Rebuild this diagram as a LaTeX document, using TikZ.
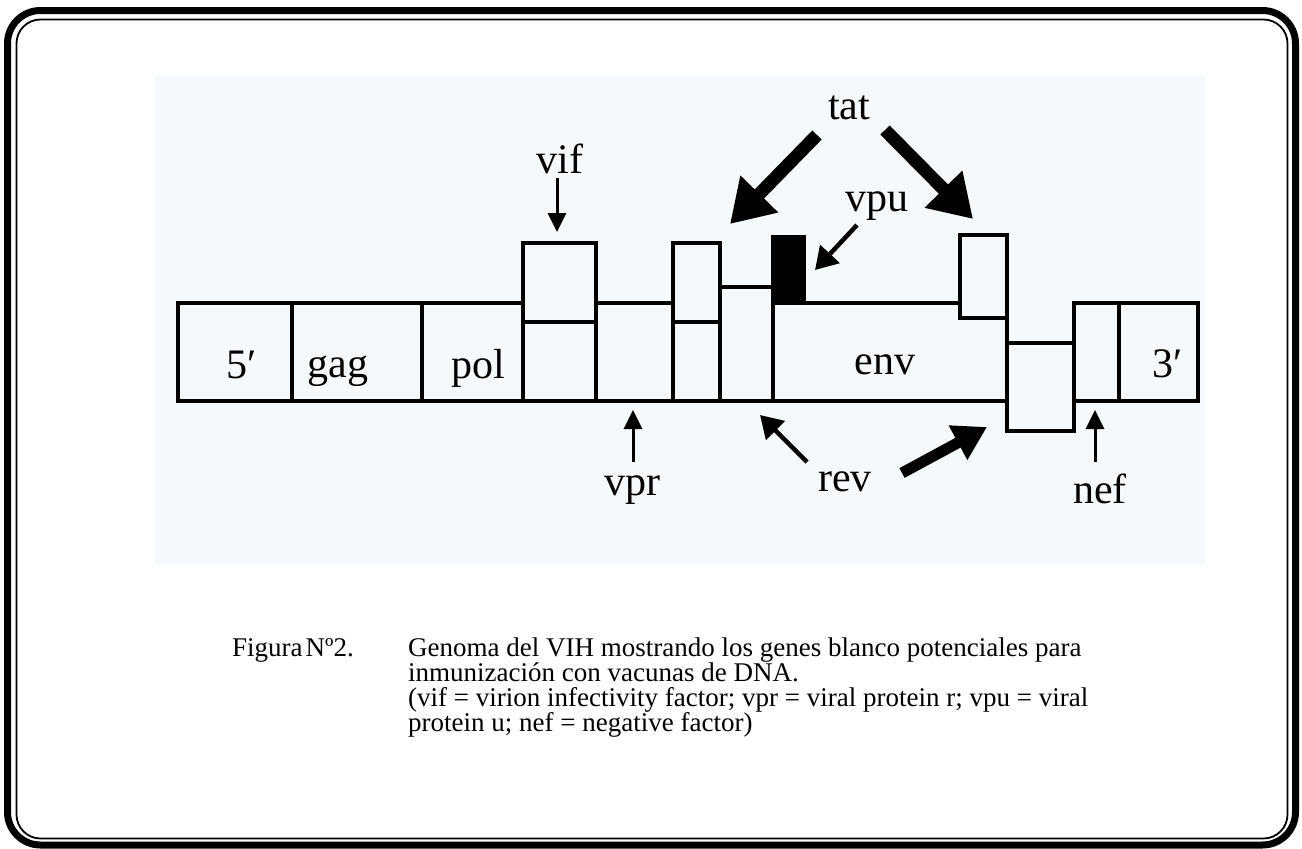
\documentclass[tikz,border=0pt]{standalone}
\usepackage{fontspec}
\setmainfont{Liberation Serif}
\usetikzlibrary{arrows.meta}
\definecolor{scanbg}{RGB}{246,249,251}
\begin{document}
\begin{tikzpicture}[x=1pt,y=-1pt,
  gline/.style={line width=3.6pt, line join=miter, line cap=rect},
  lab/.style={font=\fontsize{42}{42}\selectfont, inner sep=0pt, anchor=base},
  capt/.style={font=\fontsize{27}{27}\selectfont, inner sep=0pt, anchor=base west},
  thinarr/.style={line width=3pt, -{Triangle[width=18pt,length=19pt]}},
  medarr/.style={line width=4.5pt, -{Triangle[width=26pt,length=22pt]}},
  bigarr/.style={line width=13pt, -{Triangle[width=50pt,length=42pt]}},
  revarr/.style={line width=11pt, -{Triangle[width=37pt,length=33pt]}}
]
\useasboundingbox (0,0) rectangle (1302,849);
\fill[white] (0,0) rectangle (1302,849);
\fill[scanbg] (155,75) rectangle (1205,565);
% frame
\draw[line width=7pt, rounded corners=33pt] (7.5,10.5) rectangle (1295.5,845);
\draw[line width=1.8pt, rounded corners=24pt] (16.5,19.5) rectangle (1287.5,838.5);
% genome
\draw[gline] (178,303) rectangle (523,401);
\draw[gline] (292,303) -- (292,401) (422,303) -- (422,401);
\draw[gline] (523,243) rectangle (596,401) (523,322) -- (596,322);
\draw[gline] (596,303) -- (673,303) (596,401) -- (673,401);
\draw[gline] (673,243) rectangle (720,401) (673,322) -- (720,322);
\draw[gline] (720,287) rectangle (773,401);
\filldraw[gline] (773,237) rectangle (804,303);
\draw[gline] (804,303) -- (960,303);
\draw[gline] (773,303) -- (773,401) -- (1007,401) -- (1007,318);
\draw[gline] (960,235) rectangle (1007,318);
\draw[gline] (1007,343) rectangle (1074,431);
\draw[gline] (1074,303) rectangle (1198,401) (1119,303) -- (1119,401);
% labels
\node[lab] (t5) at (242,378) {5′};
\node[lab] (tgag) at (338,377) {gag};
\node[lab] (tpol) at (478,378) {pol};
\node[lab] (tenv) at (885,374) {env};
\node[lab] (t3) at (1168,377) {3′};
\node[lab] (tvif) at (560,173) {vif};
\node[lab] (ttat) at (849,119) {tat};
\node[lab] (tvpu) at (877,211) {vpu};
\node[lab] (tvpr) at (632,495) {vpr};
\node[lab] (trev) at (845,491) {rev};
\node[lab] (tnef) at (1100,503) {nef};
% arrow ends
\coordinate (vifS) at (557,178); \coordinate (vifE) at (557,232);
\coordinate (vprS) at (633,462); \coordinate (vprE) at (633,410);
\coordinate (nefS) at (1095,462); \coordinate (nefE) at (1095,410);
\coordinate (vpuS) at (857,225); \coordinate (vpuE) at (815,270);
\coordinate (revAS) at (807,462); \coordinate (revAE) at (760,415);
\coordinate (revBS) at (902,473); \coordinate (revBE) at (987,427);
\coordinate (tatAS) at (817,135); \coordinate (tatAE) at (730,224);
\coordinate (tatBS) at (885,130); \coordinate (tatBE) at (973,219);
\draw[thinarr] (vifS) -- (vifE);
\draw[thinarr] (vprS) -- (vprE);
\draw[thinarr] (nefS) -- (nefE);
\draw[medarr] (vpuS) -- (vpuE);
\draw[medarr] (revAS) -- (revAE);
\draw[revarr] (revBS) -- (revBE);
\draw[bigarr] (tatAS) -- (tatAE);
\draw[bigarr] (tatBS) -- (tatBE);
% caption
\node[capt] (fig) at (232,656) {Figura\hspace{3pt}Nº2.};
\node[capt] (c1) at (408,656) {Genoma del VIH mostrando los genes blanco potenciales para};
\node[capt] (c2) at (408,681) {inmunización con vacunas de DNA.};
\node[capt] (c3) at (408,706) {(vif = virion infectivity factor; vpr = viral protein r; vpu = viral};
\node[capt] (c4) at (408,731) {protein u; nef = negative factor)};
\end{tikzpicture}
\end{document}
